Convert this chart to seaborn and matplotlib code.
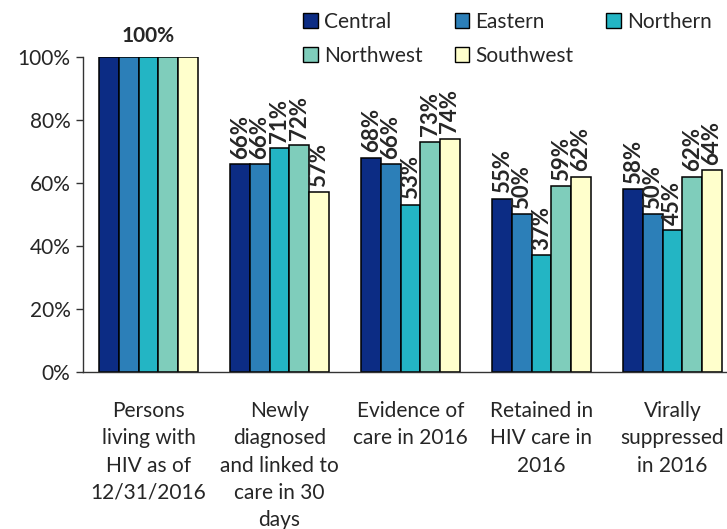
import matplotlib
matplotlib.use('Agg')
import matplotlib.pyplot as plt
from matplotlib.patches import Patch
from matplotlib.ticker import FuncFormatter
import seaborn as sns
import pandas as pd

categories = ["Persons\nliving with\nHIV as of\n12/31/2016",
              "Newly\ndiagnosed\nand linked to\ncare in 30\ndays",
              "Evidence of\ncare in 2016",
              "Retained in\nHIV care in\n2016",
              "Virally\nsuppressed\nin 2016"]
regions = ["Central", "Eastern", "Northern", "Northwest", "Southwest"]
central = [100, 66, 68, 55, 58]
eastern = [100, 66, 66, 50, 50]
northern = [100, 71, 53, 37, 45]
northwest = [100, 72, 73, 59, 62]
southwest = [100, 57, 74, 62, 64]
colors = ["#0c2c84", "#2c7fb8", "#23b5c4", "#7fcdbb", "#ffffcc"]
yticks = [0, 20, 40, 60, 80, 100]

series = [central, eastern, northern, northwest, southwest]
rows = []
for reg, vals in zip(regions, series):
    for cat, v in zip(categories, vals):
        rows.append({"cat": cat, "region": reg, "val": v})
df = pd.DataFrame(rows)

sns.set_theme(style="white")
plt.rcParams['font.family'] = ['Lato', 'DejaVu Sans']
FS = 15

fig = plt.figure(figsize=(7.27, 5.29), dpi=100)
ax = fig.add_axes([83/727, (529-372)/529, (738-83)/727, (372-57)/529])

sns.barplot(data=df, x="cat", y="val", hue="region", order=categories,
            hue_order=regions, palette=colors, edgecolor="black", linewidth=1.1,
            width=0.75, ax=ax, legend=False, saturation=1)

ax.set_ylim(0, 100)
ax.set_xlim(-0.5, len(categories) - 0.5)
ax.set_yticks(yticks)
ax.yaxis.set_major_formatter(FuncFormatter(lambda v, p: f"{int(v)}%"))
ax.set_xlabel("")
ax.set_ylabel("")
for s in ["top", "right"]:
    ax.spines[s].set_visible(False)
for s in ["left", "bottom"]:
    ax.spines[s].set_color("#333333")
    ax.spines[s].set_linewidth(1.0)
ax.tick_params(axis="y", which="major", length=5, width=1, color="#333333",
               direction="out", labelsize=FS, pad=4, left=True)
ax.tick_params(axis="x", length=0, labelsize=FS, pad=21)
for lab in ax.get_xticklabels():
    lab.set_linespacing(1.45)
    lab.set_ha("center")

# data labels (skip first category, labelled once)
for cont in ax.containers:
    for i, bar in enumerate(cont.patches):
        if i == 0:
            continue
        h = bar.get_height()
        ax.annotate(f"{h:.0f}%", (bar.get_x() + bar.get_width() / 2, h),
                    xytext=(0, 4), textcoords="offset points", rotation=90,
                    ha="center", va="bottom", fontsize=16, fontweight="bold",
                    annotation_clip=False)
ax.annotate(f"{central[0]}%", (0, 100), xytext=(0, 8), textcoords="offset points",
            ha="center", va="bottom", fontsize=FS, fontweight="bold",
            annotation_clip=False)

handles = [Patch(facecolor=c, edgecolor="black", linewidth=1) for c in colors]
order = [0, 3, 1, 4, 2]
fig.legend([handles[i] for i in order], [regions[i] for i in order], ncol=3,
           loc="upper left", bbox_to_anchor=(303/727, 1 - 12/529), frameon=False,
           handlelength=0.7, handleheight=0.7, handletextpad=0.3,
           columnspacing=1.55, labelspacing=0.65, fontsize=FS,
           borderaxespad=0, borderpad=0)

fig.savefig("out.png", dpi=100)
